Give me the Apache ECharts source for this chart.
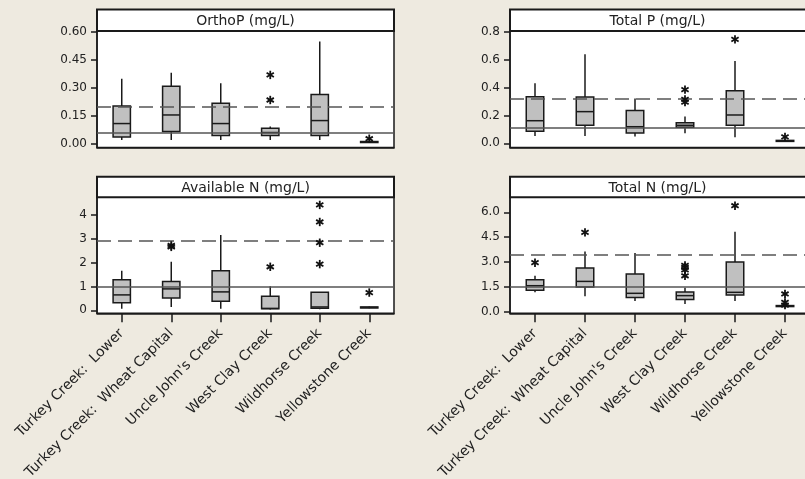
<!DOCTYPE html>
<html><head><meta charset="utf-8">
<script src="https://cdn.jsdelivr.net/npm/echarts@6/dist/echarts.min.js"></script>
<style>html,body{margin:0;padding:0;background:#eeeae0}#c{width:805px;height:479px}</style>
</head><body><div id="c"></div>
<script>
// ---- data ----
const categories = ['Turkey Creek:  Lower', 'Turkey Creek:  Wheat Capital', "Uncle John's Creek", 'West Clay Creek', 'Wildhorse Creek', 'Yellowstone Creek'];
const panelTitles = ['OrthoP (mg/L)', 'Total P (mg/L)', 'Available N (mg/L)', 'Total N (mg/L)'];

// [min, Q1, median, Q3, max] per category
const orthoPBoxes = [
  [0.021, 0.037, 0.109, 0.203, 0.349],
  [0.021, 0.066, 0.155, 0.308, 0.381],
  [0.021, 0.045, 0.109, 0.217, 0.324],
  [0.021, 0.045, 0.061, 0.084, 0.093],
  [0.021, 0.045, 0.125, 0.265, 0.548],
  [0.008, 0.010, 0.011, 0.013, 0.015]
];
const orthoPOutliers = [[3, 0.369], [3, 0.235], [5, 0.028]];
const orthoPRefs = [0.198, 0.056]; // [dashed, solid]
const orthoPTicks = [0, 0.15, 0.30, 0.45, 0.60];

const totalPBoxes = [
  [0.053, 0.086, 0.162, 0.334, 0.430],
  [0.053, 0.129, 0.227, 0.332, 0.638],
  [0.048, 0.074, 0.119, 0.236, 0.322],
  [0.072, 0.115, 0.129, 0.148, 0.193],
  [0.043, 0.129, 0.203, 0.377, 0.590],
  [0.012, 0.015, 0.018, 0.021, 0.024]
];
const totalPOutliers = [[3, 0.385], [3, 0.315], [3, 0.295], [4, 0.745], [5, 0.046]];
const totalPRefs = [0.32, 0.11];
const totalPTicks = [0, 0.2, 0.4, 0.6, 0.8];

const availNBoxes = [
  [0.07, 0.32, 0.646, 1.277, 1.656],
  [0.14, 0.519, 0.898, 1.207, 2.035],
  [0.07, 0.379, 0.772, 1.656, 3.158],
  [0.03, 0.07, 0.08, 0.589, 1.01],
  [0.04, 0.09, 0.14, 0.758, 0.77],
  [0.09, 0.10, 0.12, 0.14, 0.16]
];
const availNOutliers = [[1, 2.72], [1, 2.66], [3, 1.825], [4, 4.42], [4, 3.705], [4, 2.835], [4, 1.937], [5, 0.744]];
const availNRefs = [2.93, 1.0];
const availNTicks = [0, 1, 2, 3, 4];

const totalNBoxes = [
  [1.17, 1.29, 1.57, 1.93, 2.17],
  [0.93, 1.49, 1.83, 2.64, 3.64],
  [0.64, 0.85, 1.11, 2.28, 3.54],
  [0.46, 0.74, 0.97, 1.19, 1.45],
  [0.64, 1.01, 1.17, 3.00, 4.83],
  [0.28, 0.31, 0.34, 0.37, 0.40]
];
const totalNOutliers = [[0, 2.96], [1, 4.79], [3, 2.80], [3, 2.68], [3, 2.52], [3, 2.17], [4, 6.40], [5, 1.07], [5, 0.56], [5, 0.40]];
const totalNRefs = [3.46, 1.48];
const totalNTicks = [0, 1.5, 3.0, 4.5, 6.0];

// ---- layout ----
const panels = [
  {boxes: orthoPBoxes, out: orthoPOutliers, refs: orthoPRefs, ticks: orthoPTicks, dec: 2, min: -0.019, max: 0.604, left: 97, top: 31, width: 297, height: 116.5, hTop: 9.5, labels: false},
  {boxes: totalPBoxes, out: totalPOutliers, refs: totalPRefs, ticks: totalPTicks, dec: 1, min: -0.030, max: 0.805, left: 510, top: 31, width: 300, height: 116.5, hTop: 9.5, labels: false},
  {boxes: availNBoxes, out: availNOutliers, refs: availNRefs, ticks: availNTicks, dec: 0, min: -0.126, max: 4.74, left: 97, top: 197.3, width: 297, height: 116, hTop: 176.7, labels: true},
  {boxes: totalNBoxes, out: totalNOutliers, refs: totalNRefs, ticks: totalNTicks, dec: 1, min: -0.097, max: 6.91, left: 510, top: 197.3, width: 300, height: 116, hTop: 176.7, labels: true}
];

const FONT = 'DejaVu Sans';

function renderBox(params, api) {
  const i = api.value(0);
  const x = api.coord([i, 0])[0];
  const w = api.size([1, 0])[0] * 0.35;
  const y = k => api.coord([i, api.value(k)])[1];
  const yMin = y(1), yQ1 = y(2), yMed = y(3), yQ3 = y(4), yMax = y(5);
  const ls = {stroke: '#1a1a1a', lineWidth: 1.5};
  return {type: 'group', children: [
    {type: 'line', shape: {x1: x, y1: yQ3, x2: x, y2: yMax}, style: ls},
    {type: 'line', shape: {x1: x, y1: yQ1, x2: x, y2: yMin}, style: ls},
    {type: 'rect', shape: {x: x - w / 2, y: yQ3, width: w, height: Math.max(yQ1 - yQ3, 1)}, style: {fill: '#c0c0c0', stroke: '#1a1a1a', lineWidth: 1.5}},
    {type: 'line', shape: {x1: x - w / 2, y1: yMed, x2: x + w / 2, y2: yMed}, style: ls}
  ]};
}

function renderStar(params, api) {
  const c = api.coord([api.value(0), api.value(1)]);
  const r = 4.2;
  const ls = {stroke: '#111', lineWidth: 1.8};
  return {type: 'group', children: [0, 60, 120].map(a => {
    const t = a * Math.PI / 180;
    return {type: 'line', shape: {x1: c[0] - r * Math.sin(t), y1: c[1] - r * Math.cos(t), x2: c[0] + r * Math.sin(t), y2: c[1] + r * Math.cos(t)}, style: ls};
  })};
}

const grid = [], xAxis = [], yAxis = [], series = [], graphic = [];
panels.forEach((p, k) => {
  grid.push({left: p.left, top: p.top, width: p.width, height: p.height, outerBoundsMode: 'none', containLabel: false, show: true, backgroundColor: '#fff', borderColor: '#1a1a1a', borderWidth: 1.5});
  xAxis.push({
    type: 'category', gridIndex: k, data: categories, boundaryGap: true,
    axisLine: {show: true, onZero: false, lineStyle: {color: '#1a1a1a', width: 1.5}},
    axisTick: {show: p.labels, alignWithLabel: true, length: 9, lineStyle: {color: '#1a1a1a', width: 1.5}},
    axisLabel: {show: p.labels, interval: 0, rotate: 45, margin: 18, fontFamily: FONT, fontSize: 14, color: '#222'},
    splitLine: {show: false}
  });
  yAxis.push({
    type: 'value', gridIndex: k, min: p.min, max: p.max,
    axisLine: {show: true, onZero: false, lineStyle: {color: '#1a1a1a', width: 1.5}},
    axisTick: {show: true, length: 6, customValues: p.ticks, lineStyle: {color: '#1a1a1a', width: 1.5}},
    axisLabel: {customValues: p.ticks, margin: 10, fontFamily: FONT, fontSize: 12, color: '#222', formatter: v => Number(v).toFixed(p.dec)},
    splitLine: {show: false}
  });
  series.push({
    type: 'custom', xAxisIndex: k, yAxisIndex: k, z: 2,
    renderItem: renderBox,
    encode: {x: 0, y: [1, 2, 3, 4, 5]},
    data: p.boxes.map((b, i) => [i].concat(b))
  });
  series.push({
    type: 'scatter', xAxisIndex: k, yAxisIndex: k, z: 4,
    symbol: 'none', data: p.out, silent: true,
    markLine: {
      silent: true, symbol: 'none', label: {show: false},
      data: [
        {yAxis: p.refs[0], lineStyle: {color: '#555', width: 1.5, type: [14, 7]}},
        {yAxis: p.refs[1], lineStyle: {color: '#555', width: 1.5, type: 'solid'}}
      ]
    }
  });
  series.push({
    type: 'custom', xAxisIndex: k, yAxisIndex: k, z: 6,
    renderItem: renderStar,
    encode: {x: 0, y: 1},
    data: p.out
  });
  graphic.push({
    type: 'rect', shape: {x: p.left, y: p.hTop, width: p.width, height: p.top - p.hTop},
    style: {fill: '#fff', stroke: '#1a1a1a', lineWidth: 2}, z: 10
  });
  graphic.push({
    type: 'text', x: p.left + (k % 2 === 0 ? p.width : 295) / 2, y: (p.top + p.hTop) / 2 + 1,
    style: {text: panelTitles[k], font: '14px "' + FONT + '"', fill: '#222', textAlign: 'center', textVerticalAlign: 'middle'}, z: 11
  });
});

const chart = echarts.init(document.getElementById('c'), null, {renderer: 'canvas'});
chart.setOption({
  backgroundColor: '#eeeae0',
  animation: false,
  grid, xAxis, yAxis, series, graphic
});
</script>
</body></html>
